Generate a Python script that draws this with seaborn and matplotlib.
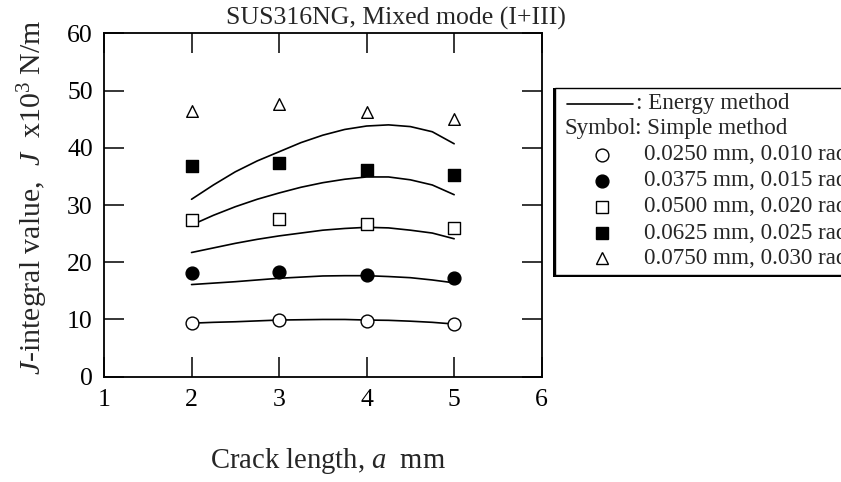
import numpy as np
import pandas as pd
import seaborn as sns
import matplotlib.pyplot as plt
from matplotlib.patches import Rectangle
from matplotlib.lines import Line2D

# crack lengths where the simple method was evaluated
crack = [2, 3, 4, 5]

# simple method J values (x10^3 N/m), one list per displacement case
simple_025 = [9.45, 9.9, 9.75, 9.25]
simple_0375 = [18.1, 18.35, 17.8, 17.2]
simple_050 = [27.4, 27.6, 26.7, 25.9]
simple_0625 = [36.8, 37.4, 36.2, 35.2]
simple_075 = [46.5, 47.7, 46.3, 45.1]

# energy method curves, every 0.25 mm
crack_fine = [2.0, 2.25, 2.5, 2.75, 3.0, 3.25, 3.5, 3.75, 4.0, 4.25, 4.5, 4.75, 5.0]
energy_025 = [9.35, 9.5, 9.6, 9.75, 9.9, 9.95, 10.0, 10.0, 9.9, 9.85, 9.7, 9.5, 9.2]
energy_0375 = [16.1, 16.35, 16.6, 16.9, 17.2, 17.4, 17.6, 17.65, 17.65, 17.5, 17.3, 16.9, 16.4]
energy_050 = [21.7, 22.5, 23.3, 24.0, 24.6, 25.1, 25.6, 25.9, 26.1, 26.0, 25.6, 25.1, 24.1]
energy_0625 = [26.5, 28.2, 29.7, 31.0, 32.1, 33.1, 33.9, 34.5, 34.9, 34.9, 34.4, 33.5, 31.8]
energy_075 = [31.0, 33.5, 35.8, 37.7, 39.3, 40.9, 42.2, 43.2, 43.8, 44.0, 43.7, 42.8, 40.7]

cases = ["0.0250 mm, 0.010 rad", "0.0375 mm, 0.015 rad", "0.0500 mm, 0.020 rad",
         "0.0625 mm, 0.025 rad", "0.0750 mm, 0.030 rad"]

simple_all = [simple_025, simple_0375, simple_050, simple_0625, simple_075]
energy_all = [energy_025, energy_0375, energy_050, energy_0625, energy_075]

# marker style per case: (marker, face colour, size)
styles = [("o", "white", 85), ("o", "black", 85), ("s", "white", 75), ("s", "black", 80), ("^", "white", 70)]

energy_df = pd.concat([pd.DataFrame({"a": crack_fine, "J": e, "case": c})
                       for e, c in zip(energy_all, cases)])

sns.set_theme(style="ticks")
plt.rcParams['font.family'] = ['Liberation Serif', 'DejaVu Serif']
plt.rcParams['mathtext.fontset'] = 'custom'
plt.rcParams['mathtext.rm'] = 'Liberation Serif'
plt.rcParams['mathtext.it'] = 'Liberation Serif:italic'

W, H = 841, 482
fig = plt.figure(figsize=(W / 100, H / 100), dpi=100)


def fx(p):
    return p / W


def fy(p):
    return 1 - p / H


ax = fig.add_axes([fx(104), fy(376.7), fx(541.7) - fx(104), fy(33.3) - fy(376.7)])

sns.lineplot(data=energy_df, x="a", y="J", units="case", estimator=None,
             color="black", linewidth=1.2, ax=ax, zorder=2)

for vals, (mk, fc, s) in zip(simple_all, styles):
    sns.scatterplot(x=crack, y=vals, marker=mk, s=s, facecolor=fc, edgecolor="black",
                    linewidth=1.0, ax=ax, zorder=3)

ax.set_xlim(1, 6)
ax.set_ylim(0, 60)
ax.set_xticks([1, 2, 3, 4, 5, 6])
ax.set_yticks([0, 10, 20, 30, 40, 50, 60])
ax.tick_params(direction="in", length=14.5, width=1.1, top=True, right=True,
               labelsize=18.5, colors="black")
ax.tick_params(axis="x", pad=9)
ax.tick_params(axis="y", pad=8)
for sp in ax.spines.values():
    sp.set_linewidth(1.3)
    sp.set_color("black")

ax.set_xlabel(r"Crack length, $a$  mm", fontsize=20.6)
ax.set_ylabel(r"$J$-integral value,  $J$  x10$^3$ N/m", fontsize=21.5)
ax.xaxis.set_label_coords((327.7 - 104) / 437.7, (376.7 - 461) / 343.4)
ax.xaxis.label.set_va("center")
ax.yaxis.set_label_coords((33 - 104) / 437.7, (376.7 - 197) / 343.4)
ax.yaxis.label.set_va("center")

fig.text(fx(396), fy(18), "SUS316NG, Mixed mode (I+III)", fontsize=18.5,
         ha="center", va="center")

# legend box drawn by hand, it runs off the right edge like the original
fig.patches.append(Rectangle((fx(553), fy(276.5)), fx(320), fy(88) - fy(276.5),
                             transform=fig.transFigure, facecolor="black", edgecolor="none"))
fig.patches.append(Rectangle((fx(555), fy(275)), fx(320), fy(88) - fy(275),
                             transform=fig.transFigure, facecolor="white", edgecolor="black",
                             linewidth=1.0))

fs_leg = 16.6
fig.lines.append(Line2D([fx(567), fx(633)], [fy(104), fy(104)], transform=fig.transFigure,
                        color="black", linewidth=1.2))
fig.text(fx(636), fy(104), ": Energy method", fontsize=fs_leg, ha="left", va="center")
fig.text(fx(564), fy(129), "Symbol", fontsize=fs_leg, ha="left", va="center")
fig.text(fx(635), fy(129), ": Simple method", fontsize=fs_leg, ha="left", va="center")

row_y = [155, 181, 207, 233, 258]
for yy, c, (mk, fc, s) in zip(row_y, cases, styles):
    fig.lines.append(Line2D([fx(602)], [fy(yy)], transform=fig.transFigure, marker=mk,
                            markersize=np.sqrt(s), markerfacecolor=fc, markeredgecolor="black",
                            markeredgewidth=1.0, linestyle="none"))
    fig.text(fx(644), fy(yy), c, fontsize=fs_leg, ha="left", va="center")

fig.savefig("out.png", dpi=100)
